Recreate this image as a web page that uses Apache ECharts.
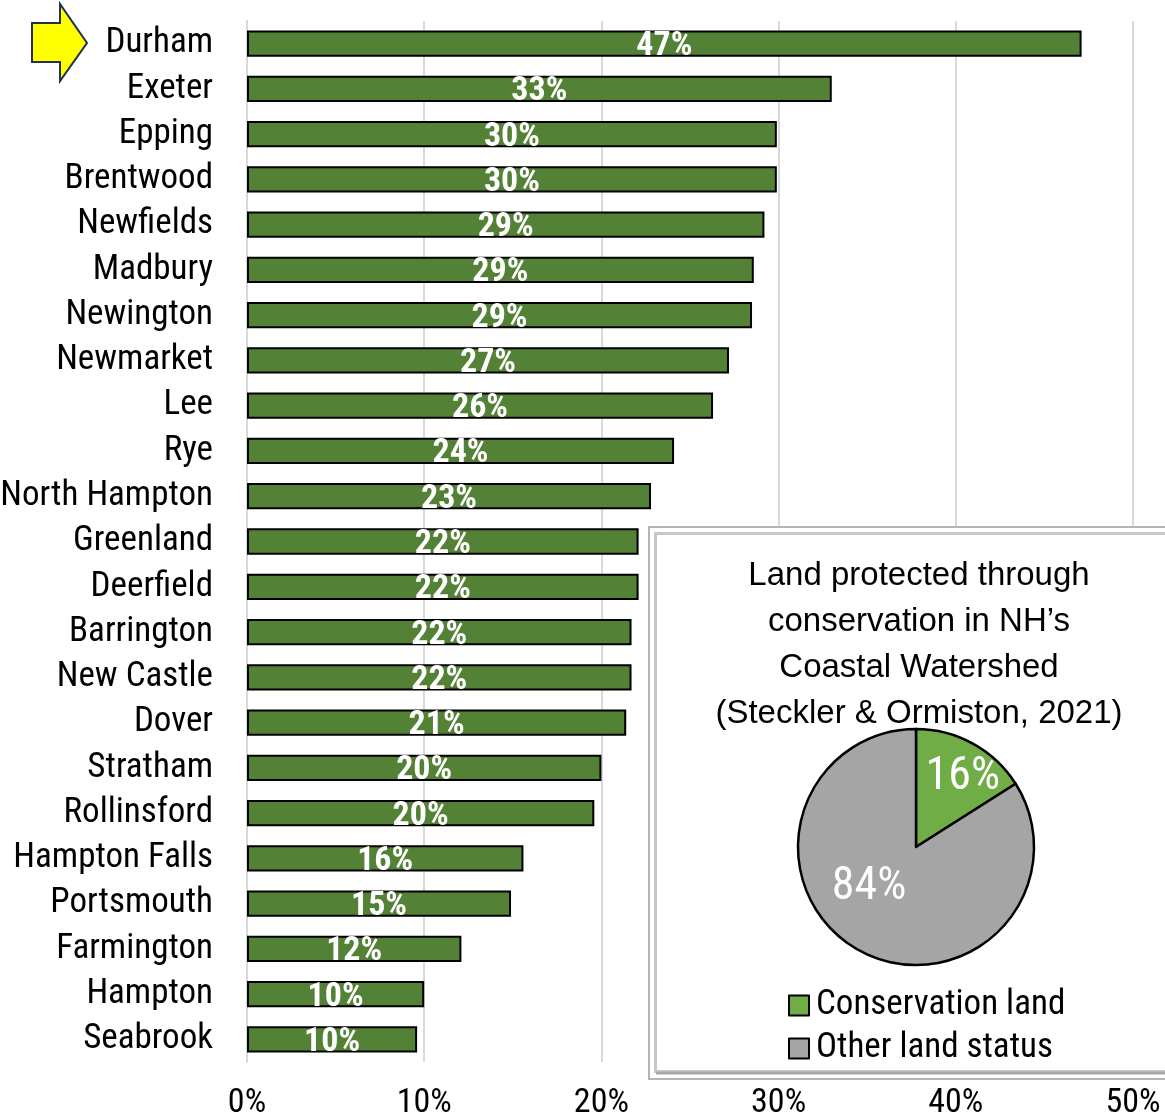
<!DOCTYPE html>
<html>
<head>
<meta charset="utf-8">
<script src="https://cdn.jsdelivr.net/npm/echarts@6/dist/echarts.min.js"></script>
<style>
html,body{margin:0;padding:0;background:#fff;}
#chart{width:1165px;height:1118px;}
</style>
</head>
<body>
<div id="chart"></div>
<script>
const towns = ['Durham','Exeter','Epping','Brentwood','Newfields','Madbury','Newington','Newmarket','Lee','Rye','North Hampton','Greenland','Deerfield','Barrington','New Castle','Dover','Stratham','Rollinsford','Hampton Falls','Portsmouth','Farmington','Hampton','Seabrook'];
const protectedPct = [47.1,33.0,29.9,29.9,29.2,28.6,28.5,27.2,26.3,24.1,22.8,22.1,22.1,21.7,21.7,21.4,20.0,19.6,15.6,14.9,12.1,10.0,9.6];
const xTicks = [0,10,20,30,40,50];
const pieNames = ['Conservation land','Other land status'];
const pieValues = [16,84];
const pieTitle = ['Land protected through','conservation in NH\u2019s','Coastal Watershed','(Steckler & Ormiston, 2021)'];

const NARROW = "'Liberation Sans Narrow','Arial Narrow','Roboto Condensed',sans-serif";
const REG = "'Liberation Sans',Arial,sans-serif";

const chart = echarts.init(document.getElementById('chart'), null, {renderer:'canvas'});
const option = {
  backgroundColor:'#fff',
  animation:false,
  title:{
    text: pieTitle.join('\n'),
    left: 914, top: 548, textAlign:'center',
    textStyle:{fontFamily:REG, fontSize:33, fontWeight:'normal', color:'#000', lineHeight:46},
    z: 20
  },
  grid:{left:247, right:32, top:21, bottom:56, containLabel:false, outerBoundsMode:'none'},
  xAxis:{
    type:'value', min:xTicks[0], max:xTicks[xTicks.length-1], interval:10,
    axisLine:{show:false}, axisTick:{show:false},
    axisLabel:{formatter:'{value}%', fontFamily:NARROW, fontSize:34, color:'#000', margin:24},
    splitLine:{lineStyle:{color:'#D9D9D9', width:2}}
  },
  yAxis:{
    type:'category', data:towns, inverse:true,
    axisLine:{show:true, lineStyle:{color:'#D9D9D9', width:2}},
    axisTick:{show:false},
    axisLabel:{interval:0, fontFamily:NARROW, fontSize:35, color:'#000', margin:34, padding:[6,0,0,0]}
  },
  legend:{
    data:pieNames, orient:'vertical', left:783, top:983,
    icon:'rect', itemWidth:20, itemHeight:20, itemGap:8,
    textStyle:{fontFamily:NARROW, fontSize:35, color:'#000', padding:[0,0,0,2]},
    z: 20
  },
  graphic:[
    {type:'polygon', z:30, shape:{points:[[32,23],[60,23],[60,4],[87,43],[60,81],[60,62],[32,62]]},
     style:{fill:'#FFFF00', stroke:'#1F3050', lineWidth:2}},
    {type:'rect', z:5, shape:{x:649, y:527, width:540, height:552},
     style:{fill:'#fff', stroke:'#B4B4B4', lineWidth:2}},
    {type:'rect', z:6, shape:{x:655.5, y:533.5, width:540, height:538},
     style:{fill:'#fff', stroke:'#C8C8C8', lineWidth:3}},
    {type:'line', z:6, shape:{x1:656, y1:1073, x2:1165, y2:1073},
     style:{stroke:'#A8A8A8', lineWidth:3}}
  ],
  series:[
    {
      type:'bar', data:protectedPct, barCategoryGap:'42%',
      itemStyle:{color:'#538135', borderColor:'#000', borderWidth:2},
      label:{show:true, position:'inside', formatter:p=>Math.round(p.value)+'%',
        fontFamily:NARROW, fontWeight:'bold', fontSize:34, color:'#fff', offset:[0,3]},
      z:2
    },
    {
      type:'pie', center:[916,847], radius:[0,118], startAngle:90, clockwise:true,
      z:15,
      data: pieNames.map((n,i)=>({name:n, value:pieValues[i]})),
      color:['#70AD47','#A5A5A5'],
      itemStyle:{borderColor:'#000', borderWidth:2.5},
      label:{show:true, position:'inside', formatter:'{c}%', fontFamily:NARROW, fontSize:46, color:'#fff'},
      labelLine:{show:false},
      labelLayout:function(p){
        return p.dataIndex===0 ? {dx:17, dy:-15} : {dx:-17, dy:-14};
      },
      emphasis:{disabled:true}
    }
  ]
};
chart.setOption(option);
</script>
</body>
</html>
